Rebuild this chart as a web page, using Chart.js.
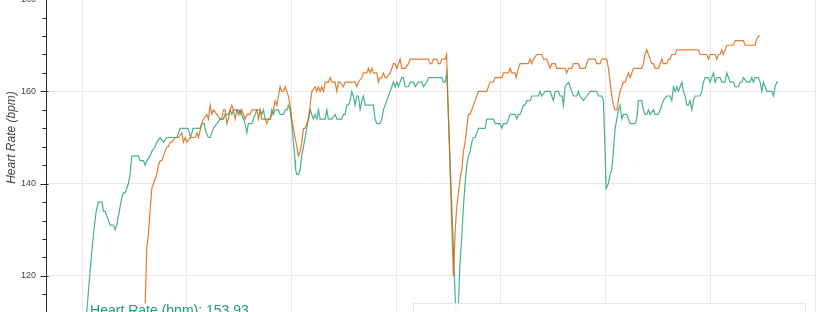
<!DOCTYPE html>
<html>
<head>
<meta charset="utf-8">
<script src="https://cdn.jsdelivr.net/npm/chart.js@4.4.1/dist/chart.umd.min.js"></script>
<style>
  html, body { margin: 0; padding: 0; background: #fff; overflow: hidden; }
  /* the plot is taller than the window: its top and bottom are cut off */
  .chart-container { position: absolute; left: 0; top: -48px; width: 818px; height: 370px; }
</style>
</head>
<body>
<div class="chart-container"><canvas id="hrChart"></canvas></div>
<script>
// elapsed time (minutes) and heart rate (bpm), teal series
const hrMinutes = [10.33, 10.76, 11.08, 11.34, 11.56, 11.91, 12.03, 12.20, 12.36, 12.67, 12.99, 13.15, 13.31, 13.47, 13.63, 13.79, 13.94, 14.11, 14.27, 14.42,
  14.58, 14.75, 15.38, 15.54, 15.85, 16.02, 16.18, 16.49, 16.66, 16.97, 17.13, 17.45, 17.77, 18.09, 19.04, 19.36, 20.12, 20.36, 20.60, 21.27,
  21.43, 21.65, 21.84, 22.06, 22.23, 22.39, 22.54, 22.87, 23.18, 23.50, 23.66, 23.97, 24.14, 24.30, 24.45, 24.78, 24.93, 25.09, 25.25, 25.41,
  25.57, 25.73, 25.88, 26.21, 26.36, 26.69, 27.00, 27.16, 27.32, 27.48, 27.96, 28.12, 28.27, 28.43, 28.75, 28.91, 29.23, 29.39, 29.58, 29.70,
  29.87, 30.03, 30.18, 30.34, 30.39, 30.51, 30.66, 30.82, 30.98, 31.14, 31.30, 31.46, 31.61, 31.78, 31.94, 32.09, 32.25, 32.42, 32.57, 32.73,
  33.21, 33.37, 33.52, 33.85, 34.16, 34.33, 34.80, 34.96, 35.12, 35.28, 35.43, 35.60, 35.76, 35.91, 36.07, 36.24, 36.39, 36.55, 36.71, 36.87,
  37.03, 37.82, 37.98, 38.15, 38.46, 38.62, 38.78, 38.94, 39.10, 39.42, 39.58, 39.73, 39.89, 40.06, 40.21, 40.37, 40.53, 40.69, 40.85, 41.17,
  41.33, 41.64, 41.81, 42.12, 42.44, 42.60, 42.92, 43.08, 44.36, 44.51, 44.67, 44.83, 45.77, 45.94, 46.10, 46.27, 46.42, 46.58, 46.74, 46.90,
  47.06, 47.22, 47.37, 47.54, 47.70, 47.85, 48.49, 48.65, 49.28, 49.45, 49.92, 50.09, 50.24, 50.56, 50.72, 50.88, 51.36, 51.52, 51.67, 51.83,
  52.00, 52.15, 52.31, 52.47, 52.79, 52.95, 53.58, 53.74, 53.91, 54.22, 54.70, 54.86, 55.01, 55.18, 55.49, 55.65, 55.85, 55.97, 56.13, 56.45,
  56.61, 56.77, 56.92, 57.25, 57.40, 57.56, 57.88, 58.20, 58.52, 59.16, 59.31, 59.64, 59.79, 59.95, 60.05, 60.27, 60.43, 60.59, 60.74, 60.91,
  61.07, 61.22, 61.38, 61.55, 61.70, 62.02, 62.18, 62.34, 62.82, 62.98, 63.13, 63.46, 63.61, 63.77, 63.93, 64.09, 64.25, 64.57, 64.73, 65.04,
  65.21, 65.37, 65.52, 65.85, 66.16, 66.32, 66.48, 66.64, 66.80, 66.95, 67.12, 67.28, 67.43, 67.59, 67.76, 67.91, 68.07, 68.23, 68.39, 68.55,
  69.03, 69.19, 69.34, 69.50, 69.82, 69.98, 70.14, 70.30, 70.46, 70.62, 70.94, 71.10, 71.41, 71.58, 71.73, 71.89, 72.21, 72.37, 72.68, 72.85,
  73.01, 73.16, 73.49, 73.80, 73.96, 74.12, 74.28, 74.59, 74.76, 74.92, 75.07, 75.23, 75.40, 75.87, 76.03, 76.19, 76.35, 76.50];
const hrBpm = [109, 121, 129, 134, 136, 136, 134, 134, 133, 131, 131, 130, 131, 133, 135, 137, 138, 138, 139, 140,
  142, 146, 146, 145, 145, 144, 145, 146, 147, 148, 149, 150, 149, 150, 150, 152, 152, 150, 152, 152,
  153, 153, 151, 150, 150, 151, 152, 153, 154, 154, 155, 155, 156, 155, 156, 156, 155, 156, 155, 154,
  153, 151, 153, 153, 154, 156, 156, 155, 156, 154, 154, 156, 155, 156, 156, 155, 155, 156, 156, 157,
  156, 153, 149, 145, 143, 142, 142, 143, 146, 148, 150, 152, 154, 156, 155, 154, 155, 154, 156, 154,
  154, 156, 154, 154, 155, 154, 154, 155, 155, 157, 157, 158, 160, 159, 157, 159, 159, 156, 158, 159,
  157, 157, 154, 153, 153, 154, 156, 157, 158, 160, 161, 162, 161, 162, 161, 162, 163, 163, 161, 161,
  162, 162, 161, 162, 162, 161, 162, 163, 163, 162, 162, 164, 107, 114, 123, 129, 135, 140, 144, 146,
  147, 149, 150, 150, 151, 152, 152, 154, 154, 153, 153, 152, 153, 153, 154, 155, 155, 154, 155, 155,
  156, 157, 157, 158, 158, 159, 159, 160, 159, 160, 160, 159, 158, 160, 160, 159, 159, 157, 161, 162,
  161, 160, 159, 159, 160, 159, 158, 159, 160, 160, 159, 159, 158, 147, 139, 140, 142, 143, 147, 152,
  154, 156, 157, 154, 155, 155, 154, 153, 153, 154, 158, 158, 156, 155, 155, 156, 155, 156, 155, 155,
  156, 157, 158, 159, 159, 158, 161, 160, 161, 160, 161, 162, 160, 159, 157, 157, 158, 156, 158, 159,
  159, 160, 162, 163, 163, 162, 163, 164, 162, 163, 163, 162, 162, 164, 163, 162, 162, 161, 161, 162,
  162, 163, 162, 162, 163, 162, 163, 163, 162, 160, 162, 161, 160, 160, 159, 161, 162, 162];

// orange series
const otherMinutes = [16.02, 16.18, 16.33, 16.49, 16.66, 16.81, 16.97, 17.13, 17.29, 17.45, 17.61, 17.77, 17.93, 18.09, 18.24, 18.40, 18.57, 18.88, 19.20, 19.52,
  19.68, 19.84, 20.00, 20.32, 20.79, 20.96, 21.11, 21.43, 21.59, 21.91, 22.06, 22.23, 22.39, 22.54, 22.87, 23.18, 23.34, 23.50, 23.66, 23.82,
  23.97, 24.14, 24.30, 24.45, 24.61, 24.78, 24.93, 25.09, 25.25, 25.41, 25.57, 25.73, 26.05, 26.21, 26.69, 26.84, 27.00, 27.16, 27.48, 27.64,
  27.79, 27.96, 28.12, 28.27, 28.43, 28.60, 28.75, 28.91, 29.07, 29.23, 29.39, 29.55, 29.70, 29.87, 30.03, 30.18, 30.34, 30.51, 30.66, 30.82,
  30.98, 31.14, 31.30, 31.46, 31.61, 31.78, 31.94, 32.25, 32.42, 32.57, 32.73, 32.89, 33.05, 33.21, 33.52, 33.69, 33.85, 34.16, 34.33, 34.48,
  34.64, 34.96, 35.12, 36.07, 36.24, 36.39, 36.71, 36.87, 37.19, 37.34, 37.51, 37.67, 37.82, 38.15, 38.30, 38.46, 38.62, 38.78, 38.94, 39.10,
  39.42, 39.58, 39.73, 39.89, 40.06, 40.21, 40.37, 40.53, 40.85, 41.17, 41.33, 43.08, 43.24, 43.40, 43.55, 43.88, 44.03, 44.19, 44.36, 44.67,
  44.81, 45.46, 45.63, 45.79, 45.94, 46.10, 46.27, 46.42, 46.58, 46.74, 46.90, 47.06, 47.22, 47.37, 47.54, 47.70, 47.85, 48.65, 48.81, 48.97,
  49.28, 49.45, 50.09, 50.24, 50.72, 50.88, 51.04, 51.36, 51.45, 51.67, 51.83, 52.63, 52.79, 52.95, 53.10, 53.43, 53.91, 54.06, 54.38, 54.54,
  54.70, 54.86, 55.18, 55.34, 56.13, 56.29, 56.45, 56.77, 56.92, 57.40, 57.56, 58.04, 58.20, 58.36, 59.00, 59.16, 59.47, 59.64, 60.11, 60.27,
  60.43, 60.59, 60.74, 60.91, 61.07, 61.22, 61.38, 61.55, 61.70, 61.86, 62.02, 62.18, 62.34, 62.50, 62.66, 63.46, 63.61, 63.77, 63.93, 64.09,
  64.25, 64.41, 64.57, 64.73, 65.04, 65.21, 65.37, 65.52, 65.85, 66.00, 66.16, 66.32, 66.64, 66.80, 68.86, 69.03, 69.67, 69.82, 69.98, 70.46,
  70.62, 70.77, 70.94, 71.10, 71.22, 71.41, 71.58, 72.21, 72.37, 73.16, 73.32, 74.28, 74.37, 74.59, 74.76];
const otherBpm = [114, 126, 129, 134, 139, 140, 141, 142, 144, 145, 145, 146, 147, 148, 148, 149, 149, 150, 150, 151,
  149, 150, 149, 150, 150, 151, 150, 153, 154, 155, 154, 157, 155, 156, 155, 154, 154, 156, 156, 153,
  154, 156, 157, 156, 154, 156, 156, 155, 156, 155, 154, 155, 155, 156, 156, 154, 156, 154, 154, 153,
  154, 154, 155, 156, 158, 157, 159, 161, 160, 160, 161, 160, 159, 157, 154, 152, 150, 148, 146, 147,
  149, 152, 152, 153, 154, 157, 160, 161, 160, 161, 160, 161, 160, 162, 162, 163, 162, 162, 160, 162,
  162, 161, 162, 162, 161, 162, 163, 164, 164, 165, 164, 165, 164, 164, 162, 163, 163, 164, 163, 163,
  164, 165, 166, 166, 165, 166, 167, 165, 165, 166, 167, 167, 166, 166, 167, 167, 166, 166, 167, 167,
  168, 120, 130, 135, 138, 141, 143, 147, 149, 152, 155, 155, 156, 157, 158, 159, 160, 160, 161, 162,
  162, 163, 163, 164, 164, 165, 164, 164, 163, 165, 166, 166, 167, 166, 167, 168, 168, 167, 167, 166,
  165, 166, 166, 165, 165, 164, 165, 165, 166, 166, 165, 165, 166, 167, 167, 166, 166, 167, 167, 165,
  162, 159, 157, 156, 156, 158, 160, 161, 162, 162, 163, 164, 163, 164, 165, 165, 166, 168, 169, 168,
  167, 166, 166, 165, 165, 166, 167, 166, 166, 167, 167, 168, 168, 169, 169, 168, 168, 167, 168, 168,
  167, 168, 168, 169, 168, 169, 170, 170, 171, 171, 170, 170, 171, 172, 172];

const yTickValues = [120, 140, 160, 180];
const xGridMinutes = [10, 20, 30, 40, 50, 60, 70, 80];
const hrSummaryLabel = 'Heart Rate (bpm): 153.93';

const FONT = '"Liberation Sans", Arial, Helvetica, sans-serif';
const TEAL = '#1b9e77';

const toPoints = (xs, ys) => xs.map((x, i) => ({ x: x, y: ys[i] }));

// axis line with bokeh style in/out ticks, legend frame and summary label
const bokehExtras = {
  id: 'bokehExtras',
  afterDatasetsDraw(chart) {
    const { ctx, chartArea: area } = chart;
    const right = Math.round(area.right - 10) + 0.5;
    const left = right - 392;
    const top = Math.round(area.bottom - 19) + 0.5;
    ctx.save();
    ctx.fillStyle = 'rgba(255,255,255,0.93)';
    ctx.fillRect(left, top, right - left, 60);
    ctx.strokeStyle = '#e6e6e6';
    ctx.lineWidth = 1;
    ctx.strokeRect(left, top, right - left, 60);
    ctx.restore();
  },
  afterDraw(chart) {
    const { ctx, chartArea: area, scales } = chart;
    const y = scales.y;
    const ax = Math.round(area.left) + 0.5;
    ctx.save();
    ctx.strokeStyle = '#222';
    ctx.lineWidth = 1;
    ctx.beginPath();
    ctx.moveTo(ax, area.top);
    ctx.lineTo(ax, area.bottom);
    for (let v = Math.ceil(y.min / 4) * 4; v <= y.max; v += 4) {
      const py = Math.round(y.getPixelForValue(v)) + 0.5;
      const major = yTickValues.includes(v);
      ctx.moveTo(ax - (major ? 6 : 4), py);
      ctx.lineTo(ax + (major ? 2 : 0), py);
    }
    ctx.stroke();

    const x = scales.x;
    ctx.fillStyle = TEAL;
    ctx.font = '14px ' + FONT;
    ctx.textBaseline = 'alphabetic';
    ctx.textAlign = 'left';
    ctx.fillText(hrSummaryLabel, x.getPixelForValue(hrMinutes[0]) + 4.5, area.bottom - 7);
    ctx.restore();
  }
};

const ctx = document.getElementById('hrChart').getContext('2d');
new Chart(ctx, {
  type: 'line',
  data: {
    datasets: [
      {
        label: 'Heart Rate (bpm) – comparison',
        data: toPoints(otherMinutes, otherBpm),
        borderColor: 'rgba(217,95,2,0.8)',
        borderWidth: 1.2,
        pointRadius: 0,
        tension: 0,
        fill: false
      },
      {
        label: 'Heart Rate (bpm)',
        data: toPoints(hrMinutes, hrBpm),
        borderColor: 'rgba(27,158,119,0.8)',
        borderWidth: 1.2,
        pointRadius: 0,
        tension: 0,
        fill: false
      }
    ]
  },
  options: {
    responsive: true,
    maintainAspectRatio: false,
    animation: false,
    layout: { padding: { top: 1, right: 3, bottom: 0, left: 0 } },
    plugins: {
      legend: { display: false },
      tooltip: { enabled: false }
    },
    scales: {
      x: {
        type: 'linear',
        min: 6.55,
        max: 80,
        ticks: { display: false },
        border: { display: false },
        grid: { color: '#e8e8e8', lineWidth: 1, drawTicks: false },
        afterBuildTicks: (scale) => { scale.ticks = xGridMinutes.map(v => ({ value: v })); },
        afterFit: (scale) => {
          scale.height = 0;
          scale.paddingLeft = 0;
          scale.paddingRight = 0;
        }
      },
      y: {
        min: 110,
        max: 190,
        border: { display: false },
        grid: { color: '#e8e8e8', lineWidth: 1, drawTicks: false },
        ticks: {
          color: '#444',
          font: { family: FONT, size: 9 },
          padding: 10
        },
        title: {
          display: true,
          text: 'Heart Rate (bpm)',
          color: '#444',
          font: { family: FONT, size: 12, style: 'italic' },
          padding: { top: 4, bottom: 0 }
        },
        afterBuildTicks: (scale) => { scale.ticks = yTickValues.map(v => ({ value: v })); },
        afterFit: (scale) => {
          scale.width = 46;
          // labels never reach the ends of this axis, so no extra room is needed
          scale.paddingTop = 0;
          scale.paddingBottom = 0;
        }
      }
    }
  },
  plugins: [bokehExtras]
});
</script>
</body>
</html>
